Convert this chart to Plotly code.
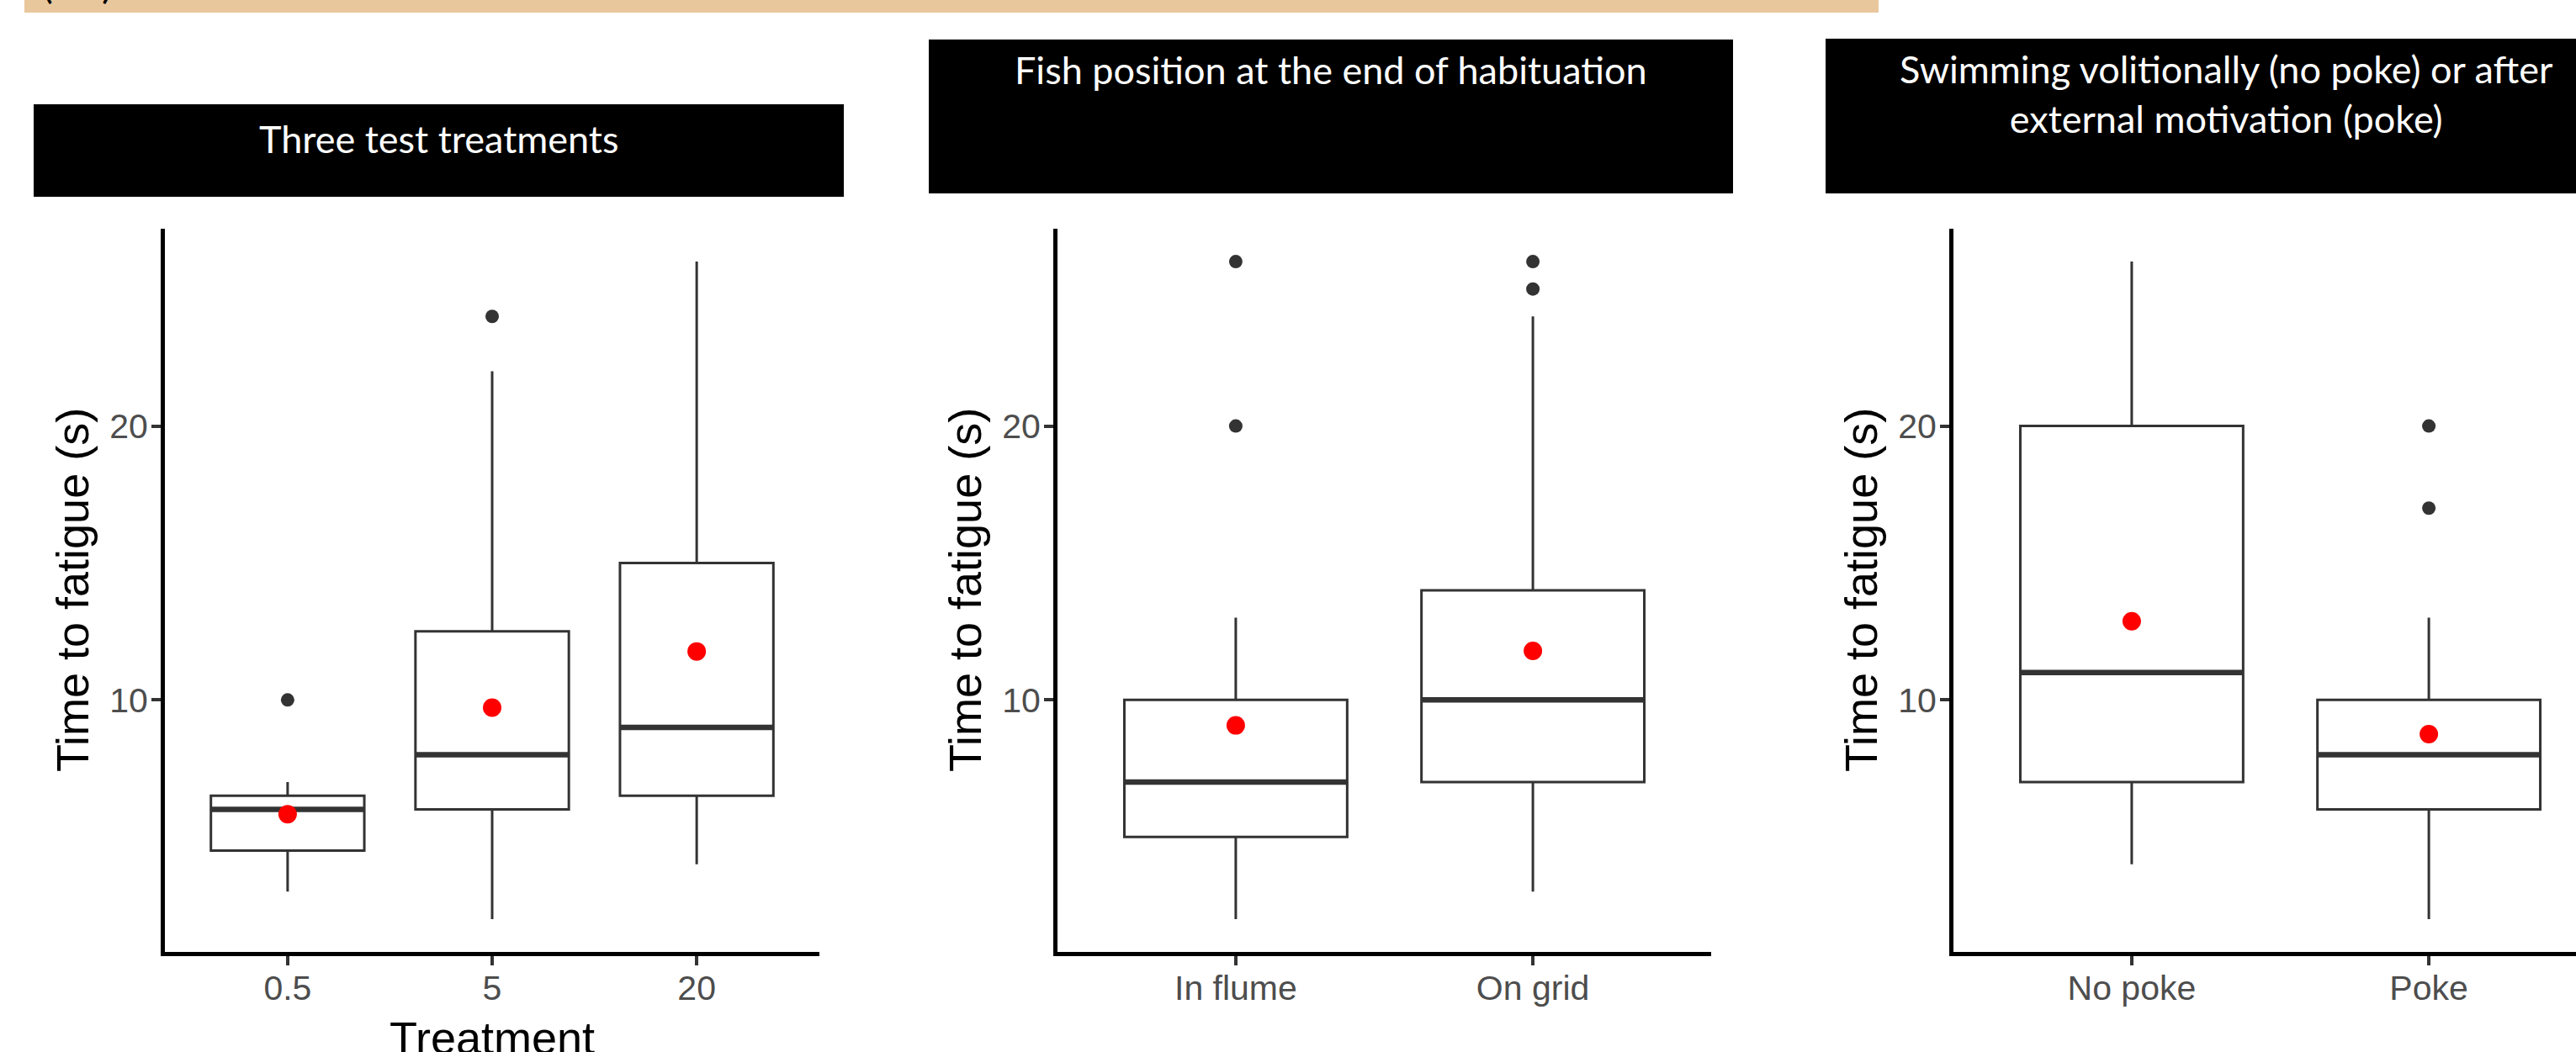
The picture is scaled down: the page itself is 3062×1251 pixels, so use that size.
import plotly.graph_objects as go

W, H = 3062, 1251

# ---------------- data ----------------
p1_cats = ["0.5", "5", "20"]
p1_q1 = [4.5, 6.0, 6.5]
p1_med = [6.0, 8.0, 9.0]
p1_q3 = [6.5, 12.5, 15.0]
p1_lo = [3.0, 2.0, 4.0]
p1_hi = [7.0, 22.0, 26.0]
p1_mean = [5.83, 9.72, 11.77]
p1_out_x = ["0.5", "5"]
p1_out_y = [10.0, 24.0]

p2_cats = ["In flume", "On grid"]
p2_q1 = [5.0, 7.0]
p2_med = [7.0, 10.0]
p2_q3 = [10.0, 14.0]
p2_lo = [2.0, 3.0]
p2_hi = [13.0, 24.0]
p2_mean = [9.07, 11.79]
p2_out_x = ["In flume", "In flume", "On grid", "On grid"]
p2_out_y = [26.0, 20.0, 26.0, 25.0]

p3_cats = ["No poke", "Poke"]
p3_q1 = [7.0, 6.0]
p3_med = [11.0, 8.0]
p3_q3 = [20.0, 10.0]
p3_lo = [4.0, 2.0]
p3_hi = [26.0, 13.0]
p3_mean = [12.87, 8.75]
p3_out_x = ["Poke", "Poke"]
p3_out_y = [20.0, 17.0]

y_ticks = [10, 20]
y_title = "Time to fatigue (s)"
x1_title = "Treatment"
headers = [
    "Three test treatments",
    "Fish position at the end of habituation",
    "Swimming volitionally (no poke) or after<br>external motivation (poke)",
]
panel_label = ["(", ")"]

# ---------------- helpers ----------------
def PX(x):
    return x / W

def PY(y):
    return 1 - y / H

BOX_LINE = "#333333"
TICK_FONT = dict(family="Liberation Sans, Arial, sans-serif", size=41, color="#4D4D4D")
TITLE_FONT = dict(family="Liberation Sans, Arial, sans-serif", size=54, color="black")
HEAD_FONT = dict(family="Lato, Open Sans, sans-serif", size=45, color="white")

fig = go.Figure()

panels = [
    dict(cats=p1_cats, q1=p1_q1, med=p1_med, q3=p1_q3, lo=p1_lo, hi=p1_hi,
         mean=p1_mean, ox=p1_out_x, oy=p1_out_y, x0=196, x1=974, xr=[-0.6, 2.6]),
    dict(cats=p2_cats, q1=p2_q1, med=p2_med, q3=p2_q3, lo=p2_lo, hi=p2_hi,
         mean=p2_mean, ox=p2_out_x, oy=p2_out_y, x0=1257, x1=2034, xr=[-0.6, 1.6]),
    dict(cats=p3_cats, q1=p3_q1, med=p3_med, q3=p3_q3, lo=p3_lo, hi=p3_hi,
         mean=p3_mean, ox=p3_out_x, oy=p3_out_y, x0=2322, x1=3062,
         xr=[-0.6, -0.6 + (3062 - 2322) / ((2034 - 1257) / 2.2)]),
]

Y_TOP, Y_BOT = 272, 1132
yrange = [0.8, 27.2]

for i, p in enumerate(panels):
    n = "" if i == 0 else str(i + 1)
    xa, ya = "x" + n, "y" + n
    # box
    fig.add_trace(go.Box(
        x=p["cats"], q1=p["q1"], median=p["med"], q3=p["q3"],
        lowerfence=p["lo"], upperfence=p["hi"],
        fillcolor="white", line=dict(color=BOX_LINE, width=3),
        whiskerwidth=0, width=0.75, boxpoints=False,
        xaxis=xa, yaxis=ya, showlegend=False, hoverinfo="skip"))
    # thick median
    fig.add_trace(go.Box(
        x=p["cats"], q1=p["med"], median=p["med"], q3=p["med"],
        lowerfence=p["med"], upperfence=p["med"],
        fillcolor="rgba(0,0,0,0)", line=dict(color=BOX_LINE, width=6.5),
        whiskerwidth=0, width=0.75, boxpoints=False,
        xaxis=xa, yaxis=ya, showlegend=False, hoverinfo="skip"))
    # outliers
    fig.add_trace(go.Scatter(
        x=p["ox"], y=p["oy"], mode="markers",
        marker=dict(color=BOX_LINE, size=16, line=dict(width=0)),
        xaxis=xa, yaxis=ya, showlegend=False, hoverinfo="skip"))
    # means
    fig.add_trace(go.Scatter(
        x=p["cats"], y=p["mean"], mode="markers",
        marker=dict(color="#FF0000", size=22, line=dict(width=0)),
        xaxis=xa, yaxis=ya, showlegend=False, hoverinfo="skip"))

    axis_common = dict(showline=True, linecolor="black", linewidth=5,
                       ticks="outside", ticklen=11, tickwidth=3.5, tickcolor=BOX_LINE,
                       showgrid=False, zeroline=False, tickfont=TICK_FONT)
    fig.update_layout(**{
        ("xaxis" + n): dict(domain=[PX(p["x0"]), PX(p["x1"])], anchor=ya,
                            type="category", categoryorder="array",
                            categoryarray=p["cats"], range=p["xr"],
                            ticklabelstandoff=-8, **axis_common),
        ("yaxis" + n): dict(domain=[PY(Y_BOT), PY(Y_TOP)], anchor=xa,
                            range=yrange, tickvals=y_ticks,
                            ticklabelstandoff=-4, **axis_common),
    })

    # y title
    fig.add_annotation(x=PX(p["x0"] - 110), y=PY((Y_TOP + Y_BOT) / 2),
                       xref="paper", yref="paper", text=y_title, textangle=-90,
                       showarrow=False, font=TITLE_FONT,
                       xanchor="center", yanchor="middle")

# x title for panel 1
fig.add_annotation(x=PX((196 + 974) / 2), y=PY(1234), xref="paper", yref="paper",
                   text=x1_title, showarrow=False, font=TITLE_FONT,
                   xanchor="center", yanchor="middle")

# tan bar
shapes = [dict(type="rect", xref="paper", yref="paper", x0=PX(29), x1=PX(2233),
               y0=PY(15), y1=1.0, fillcolor="#E9C79D", line=dict(width=0), layer="below")]
# header boxes
hdr_boxes = [(40, 1003, 124, 234), (1104, 2060, 47, 230), (2170, 3122, 46, 230)]
for (a, b, c, d) in hdr_boxes:
    shapes.append(dict(type="rect", xref="paper", yref="paper", x0=PX(a), x1=PX(b),
                       y0=PY(d), y1=PY(c), fillcolor="black", line=dict(width=0),
                       layer="below"))
fig.update_layout(shapes=shapes)

hdr_pos = [(521.5, 165), (1582, 83.5), (2646, 112)]
for txt, (cx, cy) in zip(headers, hdr_pos):
    fig.add_annotation(x=PX(cx), y=PY(cy), xref="paper", yref="paper", text=txt,
                       showarrow=False, font=HEAD_FONT, xanchor="center",
                       yanchor="middle", align="center")

# panel label parentheses (cut at top edge)
for txt, cx in zip(panel_label, [56, 127.5]):
    fig.add_annotation(x=PX(cx), y=PY(-20), xref="paper", yref="paper", text=txt,
                       showarrow=False, font=dict(family="Lato, sans-serif", size=48, color="black"),
                       xanchor="center", yanchor="middle")

fig.update_layout(width=W, height=H, margin=dict(l=0, r=0, t=0, b=0),
                  paper_bgcolor="white", plot_bgcolor="white", boxmode="overlay")

fig.write_html("out.html")
